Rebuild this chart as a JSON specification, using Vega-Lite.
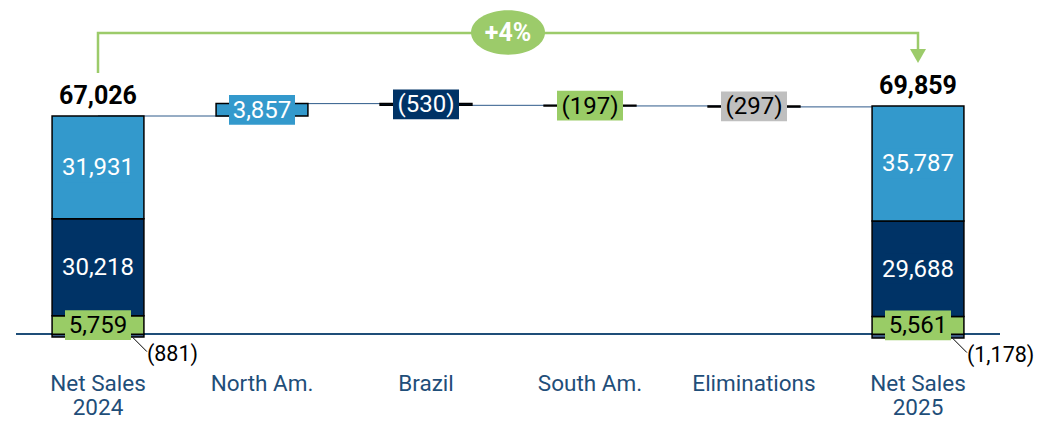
{
  "$schema": "https://vega.github.io/schema/vega-lite/v6.json",
  "width": 984,
  "height": 360,
  "autosize": "none",
  "padding": {"left": 16, "right": 38, "top": 0, "bottom": 61},
  "config": {"view": {"stroke": null}, "font": "Roboto"},
  "datasets": {
    "bars": [
      {"cat": "Net Sales 2024", "seg": "Elim total", "y0": -881, "y1": 0, "label": "(881)"},
      {"cat": "Net Sales 2024", "seg": "South Am.", "y0": 0, "y1": 5759, "label": "5,759"},
      {"cat": "Net Sales 2024", "seg": "Brazil", "y0": 5759, "y1": 35977, "label": "30,218"},
      {"cat": "Net Sales 2024", "seg": "North Am.", "y0": 35977, "y1": 67908, "label": "31,931"},
      {"cat": "North Am.", "seg": "North Am.", "y0": 67908, "y1": 71765, "label": "3,857"},
      {"cat": "Brazil", "seg": "Brazil", "y0": 71765, "y1": 71235, "label": "(530)"},
      {"cat": "South Am.", "seg": "South Am.", "y0": 71235, "y1": 71038, "label": "(197)"},
      {"cat": "Eliminations", "seg": "Eliminations", "y0": 71038, "y1": 70741, "label": "(297)"},
      {"cat": "Net Sales 2025", "seg": "Elim total", "y0": -1178, "y1": 0, "label": "(1,178)"},
      {"cat": "Net Sales 2025", "seg": "South Am.", "y0": 0, "y1": 5561, "label": "5,561"},
      {"cat": "Net Sales 2025", "seg": "Brazil", "y0": 5561, "y1": 35249, "label": "29,688"},
      {"cat": "Net Sales 2025", "seg": "North Am.", "y0": 35249, "y1": 71036, "label": "35,787"}
    ],
    "conn": [
      {"from": "Net Sales 2024", "to": "North Am.", "level": 67908},
      {"from": "North Am.", "to": "Brazil", "level": 71765},
      {"from": "Brazil", "to": "South Am.", "level": 71235},
      {"from": "South Am.", "to": "Eliminations", "level": 71038},
      {"from": "Eliminations", "to": "Net Sales 2025", "level": 70741}
    ],
    "tot": [
      {"cat": "Net Sales 2024", "top": 67908, "label": "67,026"},
      {"cat": "Net Sales 2025", "top": 71036, "label": "69,859"}
    ],
    "arrow": [
      {"cat": "Net Sales 2024", "y": 81300, "o": 1},
      {"cat": "Net Sales 2024", "y": 93700, "o": 2},
      {"cat": "Net Sales 2025", "y": 93700, "o": 3},
      {"cat": "Net Sales 2025", "y": 88700, "o": 4}
    ],
    "growth": [
      {"cat": "Brazil", "y": 93900, "label": "+4%"}
    ],
    "head": [
      {"cat": "Net Sales 2025", "y": 86600}
    ]
  },
  "data": {"name": "bars"},
  "encoding": {
    "x": {
      "field": "cat",
      "type": "nominal",
      "scale": {
        "domain": ["Net Sales 2024", "North Am.", "Brazil", "South Am.", "Eliminations", "Net Sales 2025"],
        "paddingInner": 0.44,
        "paddingOuter": 0.22
      },
      "axis": {
        "title": null,
        "domain": false,
        "ticks": false,
        "labelAngle": 0,
        "labelFontSize": 22.5,
        "labelColor": "#1F4E79",
        "labelPadding": 12,
        "labelLineHeight": 24,
        "labelFont": "Roboto",
        "labelExpr": "indexof(datum.label, 'Net Sales') == 0 ? ['Net Sales', substring(datum.label, 10)] : datum.label"
      }
    }
  },
  "resolve": {"scale": {"fill": "independent"}},
  "layer": [
    {
      "mark": {"type": "rule", "color": "#1F4E79", "strokeWidth": 1.5},
      "encoding": {"x": null, "y": {"datum": 0, "type": "quantitative", "scale": {"domain": [-8000, 104000], "nice": false, "zero": false}, "axis": null}}
    },
    {
      "data": {"name": "conn"},
      "mark": {"type": "rule", "color": "#2E5A8A", "strokeWidth": 1},
      "encoding": {
        "x": {"field": "from", "type": "nominal"},
        "x2": {"field": "to"},
        "y": {"field": "level", "type": "quantitative"}
      }
    },
    {
      "mark": {"type": "bar", "stroke": "#000000", "strokeWidth": 1.5},
      "encoding": {
        "y": {"field": "y0", "type": "quantitative"},
        "y2": {"field": "y1"},
        "color": {
          "field": "seg",
          "type": "nominal",
          "legend": null,
          "scale": {
            "domain": ["North Am.", "Brazil", "South Am.", "Eliminations", "Elim total"],
            "range": ["#3399CC", "#003366", "#99CC66", "#BFBFBF", "#3D5A80"]
          }
        }
      }
    },
    {
      "transform": [
        {"filter": "datum.seg != 'Elim total'"},
        {"fold": ["y0", "y1"], "as": ["k", "v"]}
      ],
      "mark": {"type": "point", "filled": true, "opacity": 1, "size": 4356, "shape": "M-1,-0.45H1V0.45H-1Z", "strokeWidth": 0},
      "encoding": {
        "y": {"field": "v", "aggregate": "mean", "type": "quantitative"},
        "color": {"field": "seg", "type": "nominal", "legend": null},
        "detail": {"field": "label"}
      }
    },
    {
      "transform": [
        {"filter": "datum.seg != 'Elim total'"},
        {"fold": ["y0", "y1"], "as": ["k", "v"]}
      ],
      "mark": {"type": "text", "fontSize": 24, "baseline": "middle", "align": "center", "dy": 1},
      "encoding": {
        "y": {"field": "v", "aggregate": "mean", "type": "quantitative"},
        "text": {"field": "label"},
        "fill": {
          "field": "seg",
          "type": "nominal",
          "legend": null,
          "scale": {
            "domain": ["North Am.", "Brazil", "South Am.", "Eliminations"],
            "range": ["#FFFFFF", "#FFFFFF", "#000000", "#000000"]
          }
        }
      }
    },
    {
      "transform": [{"filter": "datum.seg == 'Elim total'"}],
      "mark": {"type": "point", "shape": "M-1,-1L1,1", "size": 196, "filled": false, "stroke": "#000000", "strokeWidth": 1, "opacity": 1, "xOffset": -4, "yOffset": 7.5},
      "encoding": {
        "x": {"field": "cat", "type": "nominal", "bandPosition": 1},
        "y": {"field": "y0", "type": "quantitative"}
      }
    },
    {
      "transform": [{"filter": "datum.seg == 'Elim total'"}],
      "mark": {"type": "text", "fontSize": 21.5, "align": "left", "baseline": "middle", "dx": 3, "dy": 18, "color": "#000000"},
      "encoding": {
        "x": {"field": "cat", "type": "nominal", "bandPosition": 1},
        "y": {"field": "y0", "type": "quantitative"},
        "text": {"field": "label"}
      }
    },
    {
      "data": {"name": "tot"},
      "mark": {"type": "text", "fontSize": 25, "fontWeight": "bold", "baseline": "middle", "dy": -20, "color": "#000000"},
      "encoding": {
        "y": {"field": "top", "type": "quantitative"},
        "text": {"field": "label"}
      }
    },
    {
      "data": {"name": "arrow"},
      "mark": {"type": "line", "color": "#9CCB6A", "strokeWidth": 2.5, "interpolate": "linear"},
      "encoding": {
        "y": {"field": "y", "type": "quantitative"},
        "order": {"field": "o"}
      }
    },
    {
      "data": {"name": "head"},
      "mark": {"type": "point", "shape": "M-1,-0.875L1,-0.875L0,0.875Z", "size": 256, "filled": true, "color": "#9CCB6A", "opacity": 1},
      "encoding": {
        "y": {"field": "y", "type": "quantitative"}
      }
    },
    {
      "data": {"name": "growth"},
      "mark": {"type": "point", "shape": "M-1,0A1,0.6,0,1,1,1,0A1,0.6,0,1,1,-1,0Z", "size": 5476, "filled": true, "color": "#9CCB6A", "opacity": 1, "xOffset": 82},
      "encoding": {
        "y": {"field": "y", "type": "quantitative"}
      }
    },
    {
      "data": {"name": "growth"},
      "mark": {"type": "text", "fontSize": 25, "fontWeight": "bold", "color": "#FFFFFF", "baseline": "middle", "xOffset": 82, "dy": 1},
      "encoding": {
        "y": {"field": "y", "type": "quantitative"},
        "text": {"field": "label"}
      }
    }
  ]
}
